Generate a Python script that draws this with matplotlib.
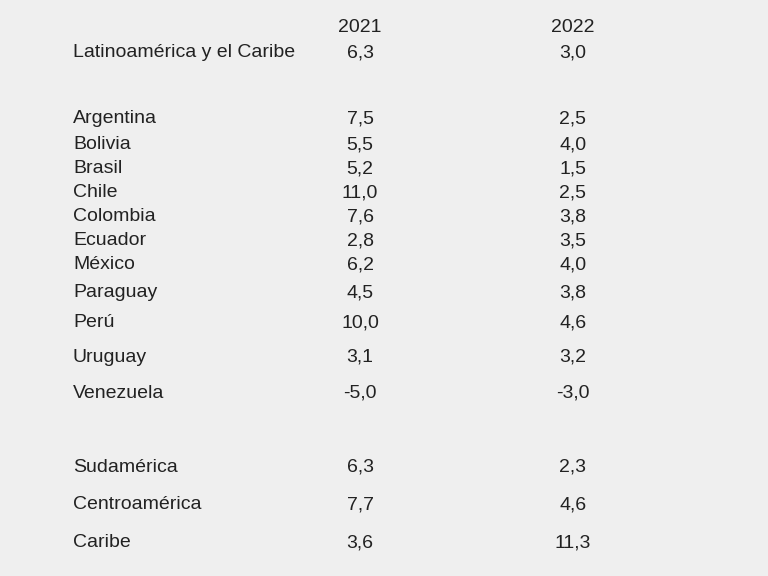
import matplotlib.pyplot as plt

# growth projections by country / region
labels = ["Latinoamérica y el Caribe",
          "Argentina", "Bolivia", "Brasil", "Chile", "Colombia", "Ecuador",
          "México", "Paraguay", "Perú", "Uruguay", "Venezuela",
          "Sudamérica", "Centroamérica", "Caribe"]
years = ["2021", "2022"]
vals_2021 = [6.3, 7.5, 5.5, 5.2, 11.0, 7.6, 2.8, 6.2, 4.5, 10.0, 3.1, -5.0, 6.3, 7.7, 3.6]
vals_2022 = [3.0, 2.5, 4.0, 1.5, 2.5, 3.8, 3.5, 4.0, 3.8, 4.6, 3.2, -3.0, 2.3, 4.6, 11.3]

# row baselines in pixels (layout only)
row_y = [57, 123, 149, 173, 197, 221, 245, 269, 297, 327, 362, 398, 472, 509, 547]
header_y = 32
col_x = [360, 573]
label_x = 73

def fmt(v):
    return ("%.1f" % v).replace(".", ",")

plt.rcParams['font.family'] = ['Liberation Sans', 'DejaVu Sans']
bg = "#efefef"
fig = plt.figure(figsize=(7.68, 5.76), dpi=100, facecolor=bg)
ax = fig.add_axes([0, 0, 1, 1])
ax.set_facecolor(bg)
ax.set_xlim(0, 768)
ax.set_ylim(576, 0)
ax.axis("off")

txt = "#222222"
fs = 14
for x, yr in zip(col_x, years):
    ax.text(x, header_y, yr, ha="center", va="baseline", fontsize=fs, color=txt)

for lab, y, a, b in zip(labels, row_y, vals_2021, vals_2022):
    ax.text(label_x, y, lab, ha="left", va="baseline", fontsize=fs, color=txt)
    ax.text(col_x[0], y, fmt(a), ha="center", va="baseline", fontsize=fs, color=txt)
    ax.text(col_x[1], y, fmt(b), ha="center", va="baseline", fontsize=fs, color=txt)

fig.savefig("out.png", dpi=100, facecolor=fig.get_facecolor())
